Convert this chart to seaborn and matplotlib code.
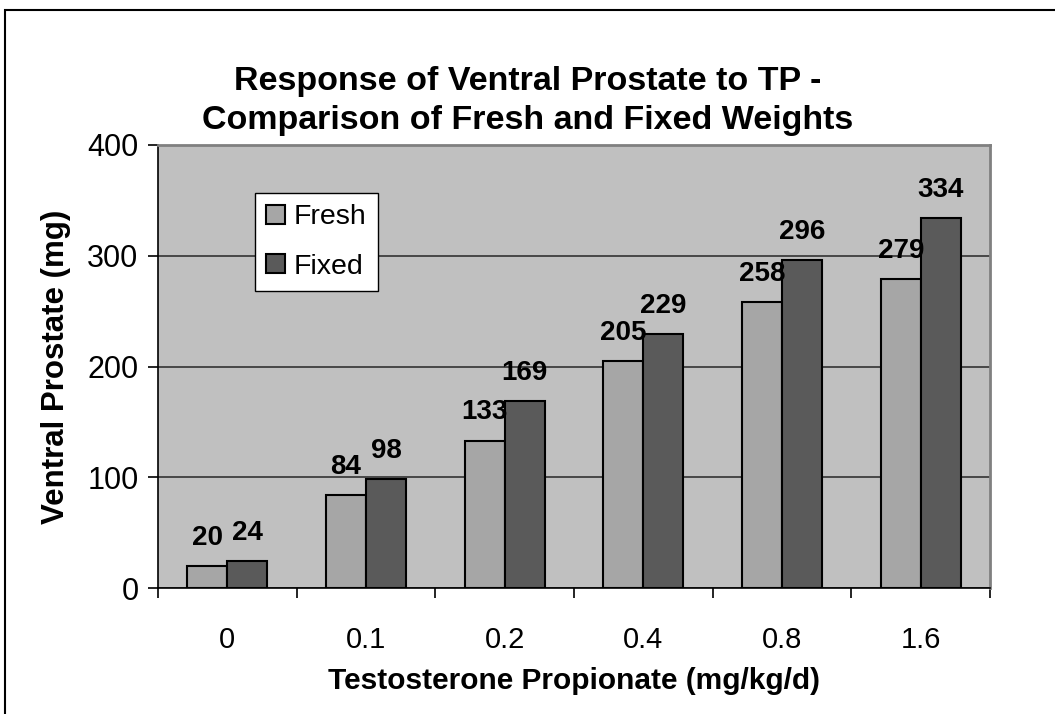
import matplotlib
matplotlib.use("Agg")
import matplotlib.pyplot as plt
import numpy as np
import pandas as pd
import seaborn as sns
from matplotlib.patches import Rectangle

doses = ["0", "0.1", "0.2", "0.4", "0.8", "1.6"]
fresh = [20, 84, 133, 205, 258, 279]
fixed = [24, 98, 169, 229, 296, 334]
series = ["Fresh", "Fixed"]
colors = ["#A6A6A6", "#5A5A5A"]
y_ticks = [0, 100, 200, 300, 400]

df = pd.DataFrame({
    "dose": doses * 2,
    "weight": fresh + fixed,
    "prep": [series[0]] * len(fresh) + [series[1]] * len(fixed),
})

sns.set_theme(style="white")
plt.rcParams["font.family"] = ["Liberation Sans", "DejaVu Sans"]
plt.rcParams["text.color"] = "black"
plt.rcParams["axes.labelcolor"] = "black"
plt.rcParams["xtick.color"] = "black"
plt.rcParams["ytick.color"] = "black"

fig = plt.figure(figsize=(10.55, 7.14), dpi=100)
ax = fig.add_axes([158 / 1055, 1 - 588 / 714, 832 / 1055, 443 / 714])

sns.barplot(data=df, x="dose", y="weight", hue="prep", order=doses,
            hue_order=series, palette=colors, saturation=1, width=0.576,
            gap=0, edgecolor="black", linewidth=1.5, ax=ax)

ax.set_facecolor("#C0C0C0")
ax.set_xlim(-0.5, 5.5)
ax.set_ylim(0, 400)
ax.set_yticks(y_ticks)
ax.yaxis.grid(True, color="#333333", linewidth=1.2)
ax.set_axisbelow(True)

# category boundary ticks like Excel
ax.set_xticks(np.arange(-0.5, 6, 1), minor=True)
ax.tick_params(axis="x", which="major", length=0, pad=27, labelsize=21)
ax.tick_params(axis="x", which="minor", bottom=True, length=7, width=1.2,
               color="black", direction="out")
ax.tick_params(axis="y", left=True, length=7, width=1.2, color="black",
               direction="out", pad=7, labelsize=22)

for side in ["left", "bottom"]:
    ax.spines[side].set_color("black")
    ax.spines[side].set_linewidth(1.2)
for side in ["top", "right"]:
    ax.spines[side].set_color("#808080")
    ax.spines[side].set_linewidth(2)

for cont in ax.containers:
    ax.bar_label(cont, fmt="%d", padding=11, fontsize=20, fontweight="bold",
                 color="black")

ax.set_xlabel("Testosterone Propionate (mg/kg/d)", fontsize=21.5,
              fontweight="bold", labelpad=10)
ax.set_ylabel("Ventral Prostate (mg)", fontsize=22.5, fontweight="bold",
              labelpad=12)

handles, labels = ax.get_legend_handles_labels()
leg = ax.legend(handles, labels, loc="upper left",
                bbox_to_anchor=(0.1166, 0.8916), borderaxespad=0,
                frameon=True, fancybox=False, edgecolor="black",
                facecolor="white", framealpha=1, fontsize=20.5,
                handlelength=0.65, handleheight=0.65, handletextpad=0.3,
                labelspacing=0.82, borderpad=0.4)
leg.get_frame().set_linewidth(1)

fig.text(0.5, 1 - 101 / 714,
         "Response of Ventral Prostate to TP -\nComparison of Fresh and Fixed Weights",
         ha="center", va="center", fontsize=24.5, fontweight="bold",
         linespacing=1.3)

fig.add_artist(Rectangle((5 / 1055, -0.1), 1.2, 1.1 - 10 / 714,
                         transform=fig.transFigure, fill=False,
                         edgecolor="black", linewidth=1.5, clip_on=False))

fig.savefig("out.png", dpi=100)
